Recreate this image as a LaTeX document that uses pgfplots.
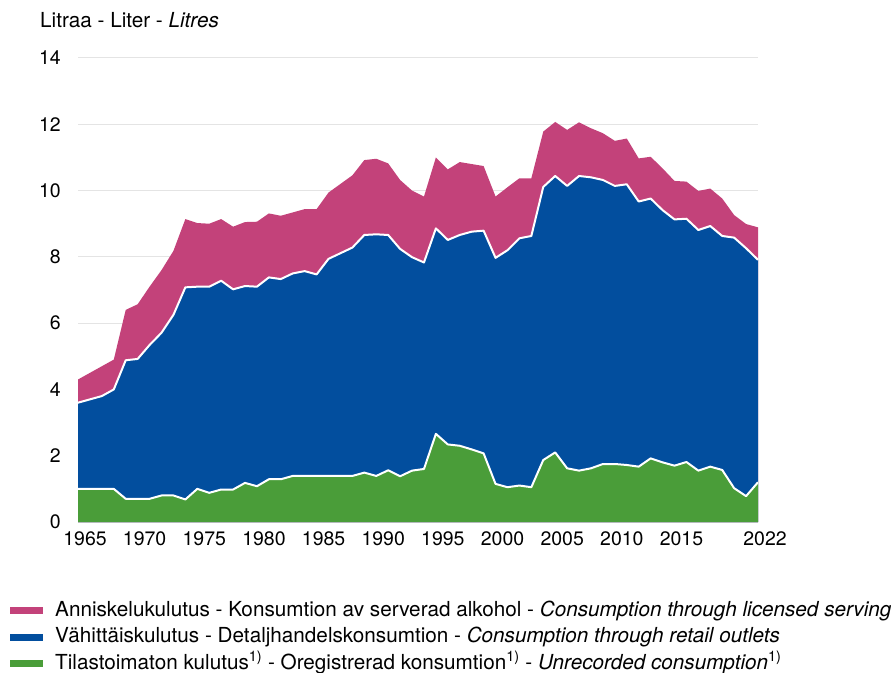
\documentclass[border=0pt]{standalone}
\usepackage{fontspec}
\setmainfont{TeX Gyre Heros}
\usepackage{pgfplots}
\usepackage{pgfplotstable}
\pgfplotsset{compat=1.18}
\definecolor{cpink}{HTML}{C3427A}
\definecolor{cblue}{HTML}{024E9E}
\definecolor{cgreen}{HTML}{4A9D39}
\definecolor{cgrid}{HTML}{E4E4E4}
% year total retailtop unrecorded
\pgfplotstableread{
year total retail green
1965 4.30 3.60 1.00
1966 4.50 3.70 1.00
1967 4.70 3.80 1.00
1968 4.90 4.00 1.00
1969 6.40 4.88 0.70
1970 6.57 4.92 0.70
1971 7.10 5.34 0.70
1972 7.60 5.71 0.80
1973 8.18 6.25 0.80
1974 9.14 7.08 0.68
1975 9.02 7.10 1.00
1976 9.00 7.10 0.88
1977 9.14 7.28 0.98
1978 8.91 7.02 0.98
1979 9.05 7.12 1.18
1980 9.06 7.10 1.08
1981 9.31 7.38 1.29
1982 9.24 7.33 1.29
1983 9.34 7.50 1.39
1984 9.44 7.57 1.39
1985 9.44 7.47 1.39
1986 9.94 7.94 1.39
1987 10.20 8.11 1.39
1988 10.46 8.28 1.39
1989 10.92 8.66 1.49
1990 10.96 8.68 1.39
1991 10.82 8.66 1.56
1992 10.32 8.24 1.38
1993 10.00 7.99 1.55
1994 9.82 7.83 1.60
1995 11.00 8.86 2.66
1996 10.64 8.51 2.34
1997 10.86 8.66 2.30
1998 10.80 8.76 2.19
1999 10.74 8.79 2.07
2000 9.82 7.97 1.15
2001 10.10 8.20 1.05
2002 10.37 8.56 1.10
2003 10.37 8.63 1.05
2004 11.78 10.11 1.87
2005 12.07 10.44 2.10
2006 11.83 10.14 1.62
2007 12.06 10.44 1.55
2008 11.88 10.40 1.62
2009 11.73 10.32 1.75
2010 11.50 10.14 1.75
2011 11.57 10.19 1.72
2012 10.97 9.67 1.67
2013 11.02 9.76 1.92
2014 10.67 9.41 1.80
2015 10.29 9.13 1.70
2016 10.27 9.15 1.81
2017 9.99 8.81 1.55
2018 10.06 8.93 1.67
2019 9.76 8.63 1.57
2020 9.26 8.58 1.02
2021 8.99 8.26 0.78
2022 8.89 7.91 1.20
}\datatable
\begin{document}
\begin{tikzpicture}
\path[use as bounding box] (0,0) rectangle (891pt,672pt);
\begin{axis}[
  at={(78pt,150pt)}, anchor=south west,
  scale only axis, width=680pt, height=464pt,
  xmin=1965, xmax=2022, ymin=0, ymax=14,
  xtick={1965,1970,1975,1980,1985,1990,1995,2000,2005,2010,2015,2022},
  ytick={0,2,4,6,8,10,12,14},
  xticklabel style={/pgf/number format/1000 sep={}},
  /pgf/number format/assume math mode=true,
  major tick length=0pt,
  ymajorgrids, grid style={cgrid, line width=1pt},
  axis line style={draw=none},
  axis x line*=bottom, axis y line*=left,
  x axis line style={draw=cgrid, line width=1pt},
  ticklabel style={font=\fontsize{19.5}{23}\selectfont, inner sep=0pt},
  yticklabel style={anchor=east, xshift=-17pt},
  xticklabel style={anchor=north, yshift=-9pt, xshift=7pt},
  legend style={at={(axis description cs:-0.1,-0.17)}, anchor=north west, draw=none, fill=none, inner sep=0pt,
     font=\fontsize{20.7}{24}\selectfont, cells={anchor=west}, row sep=7pt, column sep=12pt,
     nodes={inner sep=0pt, text height=15pt, text depth=4.5pt}},
  legend image code/.code={\fill[#1] (0pt,-3.4pt) rectangle (33pt,3.4pt);},
]
\addplot[draw=none, fill=cpink] table[x=year, y=total] {\datatable} \closedcycle;
\addlegendentry{Anniskelukulutus - Konsumtion av serverad alkohol - \textit{Consumption through licensed serving}}
\addplot[draw=none, fill=cblue] table[x=year, y=retail] {\datatable} \closedcycle;
\addlegendentry{Vähittäiskulutus - Detaljhandelskonsumtion - \textit{Consumption through retail outlets}}
\addplot[draw=none, fill=cgreen] table[x=year, y=green] {\datatable} \closedcycle;
\addlegendentry{Tilastoimaton kulutus\textsuperscript{1)} - Oregistrerad konsumtion\textsuperscript{1)} - \textit{Unrecorded consumption}\textsuperscript{1)}}
\addplot[forget plot, white, line width=2pt, line join=round] table[x=year, y=retail] {\datatable};
\addplot[forget plot, white, line width=2pt, line join=round] table[x=year, y=green] {\datatable};
\end{axis}
\node[anchor=base west, inner sep=0pt, font=\fontsize{20.7}{24}\selectfont] at (40pt,644pt) {Litraa - Liter - \textit{Litres}};
\end{tikzpicture}
\end{document}
